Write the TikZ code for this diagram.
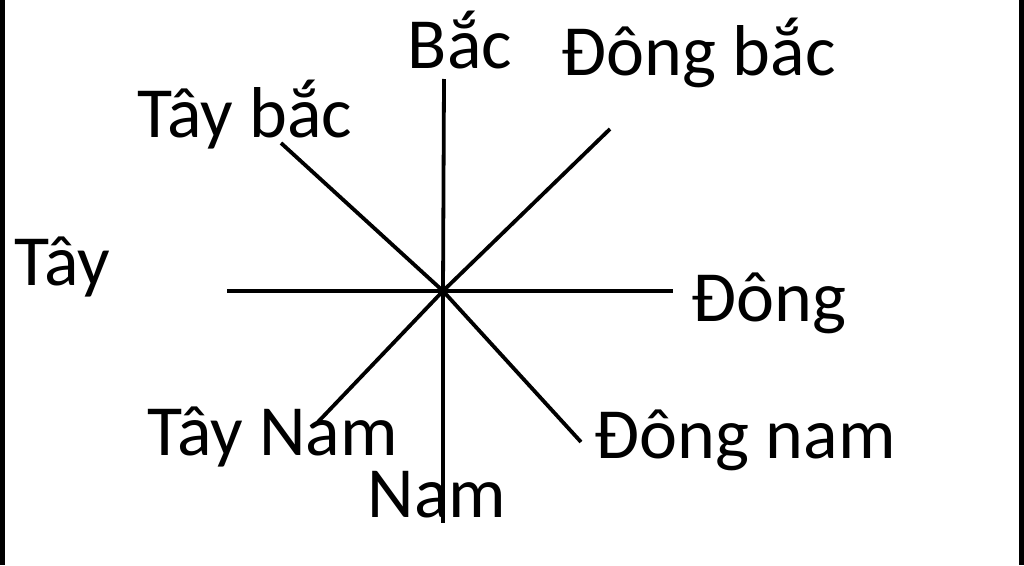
\documentclass[tikz,border=0pt]{standalone}
\usepackage{fontspec}
\setmainfont{Carlito}
\begin{document}
\begin{tikzpicture}[x=1pt,y=-1pt,line width=3.8pt,
huong/.style={anchor=base west,inner sep=0pt,font=\fontsize{72}{86}\selectfont}]
\useasboundingbox (0,0) rectangle (1024,565);
\fill (0,0) rectangle (5,565);
\fill (1019,0) rectangle (1024,565);
\coordinate (o) at (443,291);
\foreach \ten/\x/\y/\chu in {bac/406/68/Bắc,taybac/136/137/Tây bắc,tay/13/285/Tây,
dongbac/560/75/Đông bắc,dong/690/321/Đông,dongnam/593/458/Đông nam,
taynam/146/455/Tây Nam,nam/366/517/Nam}
\node[huong] (\ten) at (\x,\y) {\chu};
\foreach \ten/\x/\y in {n/444/79,s/443/523,w/227/291,e/673/291,
nw/281/143,ne/610/129,sw/317/423,se/581/442}{
\coordinate (\ten) at (\x,\y);
\draw (o) -- (\ten);
}
\end{tikzpicture}
\end{document}
